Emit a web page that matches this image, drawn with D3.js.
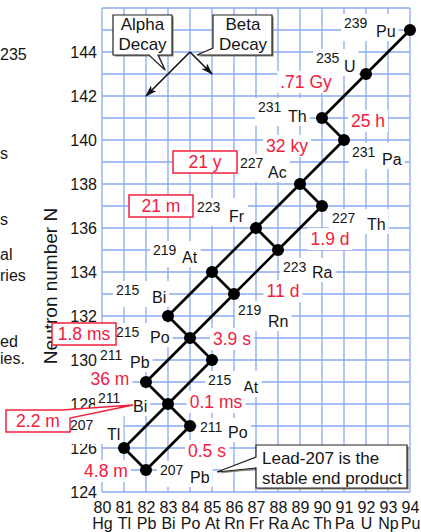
<!DOCTYPE html>
<html>
<head>
<meta charset="utf-8">
<script src="https://cdn.jsdelivr.net/npm/d3@7"></script>
<style>
  html, body { margin: 0; padding: 0; background: #fff; }
  svg { display: block; }
</style>
</head>
<body>
<svg id="chart" width="421" height="532"></svg>
<script>
// ---- Uranium-235 (actinium) decay series: nuclides on the N-Z chart ----
const nuclideIds     = ["Pu239","U235","Th231","Pa231","Ac227","Th227","Fr223","Ra223","At219","Rn219","Bi215","Po215","At215","Pb211","Bi211","Po211","Tl207","Pb207"];
const symbols        = ["Pu","U","Th","Pa","Ac","Th","Fr","Ra","At","Rn","Bi","Po","At","Pb","Bi","Po","Tl","Pb"];
const massNumbers    = [239,235,231,231,227,227,223,223,219,219,215,215,215,211,211,211,207,207];
const protonNumbers  = [94,92,90,91,89,90,87,88,85,86,83,84,85,82,83,84,81,82];
const neutronNumbers = [145,143,141,140,138,137,136,135,134,133,132,131,130,129,128,127,126,125];
const halfLives      = [null,".71 Gy","25 h","32 ky","21 y","1.9 d","21 m","11 d",null,"3.9 s",null,"1.8 ms","0.1 ms","36 m","2.2 m","0.5 s","4.8 m",null];

// decay links (parent -> daughter)
const decayFrom = ["Pu239","U235","Th231","Pa231","Ac227","Ac227","Th227","Fr223","Fr223","Ra223","At219","At219","Rn219","Bi215","Po215","Po215","Pb211","At215","Bi211","Bi211","Tl207","Po211"];
const decayTo   = ["U235","Th231","Pa231","Ac227","Th227","Fr223","Ra223","Ra223","At219","Rn219","Rn219","Bi215","Po215","Po215","Pb211","At215","Bi211","Bi211","Tl207","Po211","Pb207","Pb207"];

// axis ticks
const zTicks       = [80,81,82,83,84,85,86,87,88,89,90,91,92,93,94];
const elementTicks = ["Hg","Tl","Pb","Bi","Po","At","Rn","Fr","Ra","Ac","Th","Pa","U","Np","Pu"];
const nTicks       = [124,126,128,130,132,134,136,138,140,142,144];

// text fragments of the neighbouring page column
const sideTexts = ["235","s","s","al","ries","ed","ies."];

// ---- layout ----
const FONT = "'Liberation Sans', Arial, Helvetica, sans-serif";
const INK = "#151515";
const RED = "#f2203e";
const GRID = "#8aaaf0";

// label offsets from each nuclide dot: m = mass number, s = symbol, h = half-life
const labelLayout = {
  Pu239: {m:[-66,-2],  s:[-34,7]},
  U235:  {m:[-50,-11], s:[-22,-2],  h:[-60,14]},
  Th231: {m:[-64,-6],  s:[-34,4],   h:[46,9]},
  Pa231: {m:[8,17],    s:[38,25],   h:[-57,12]},
  Ac227: {m:[-60,-16], s:[-32,-6],  h:[-95,-16], box:true},
  Th227: {m:[10,17],   s:[45,24],   h:[8,39]},
  Fr223: {m:[-59,-16], s:[-27,-6],  h:[-95,-16], box:true},
  Ra223: {m:[5,22],    s:[34,28],   h:[5,47]},
  At219: {m:[-59,-17], s:[-30,-9]},
  Rn219: {m:[4,21],    s:[34,33],   h:[-2,51]},
  Bi215: {m:[-52,-21], s:[-16,-13]},
  Po215: {m:[-74,-1],  s:[-40,5],   h:[-106,2], box:true},
  At215: {m:[-4,25],   s:[31,33],   h:[4,48]},
  Pb211: {m:[-46,-22], s:[-16,-14], h:[-36,3]},
  Bi211: {m:[-70,-1],  s:[-35,8],   h:[-130,23], box:true, tip:[-35,1]},
  Po211: {m:[10,6],    s:[38,12],   h:[17,31]},
  Tl207: {m:[-54,-18], s:[-17,-8],  h:[-18,29]},
  Pb207: {m:[14,5],    s:[44,13]}
};
const sideLayout = [[0,60],[0,159],[0,225],[0,260],[0,281],[0,347],[0,364]];

const svg = d3.select("#chart").attr("font-family", FONT);

const x = d3.scaleLinear().domain([80, 94]).range([102, 410]);
const y = d3.scaleLinear().domain([124, 146]).range([492, 8]);

// ---- grid paper ----
const grid = svg.append("g").attr("stroke", GRID).attr("stroke-width", 1.3);
grid.selectAll("line.v").data(d3.range(80, 95)).join("line")
  .attr("class", "v")
  .attr("x1", d => x(d)).attr("x2", d => x(d))
  .attr("y1", y(124)).attr("y2", y(146));
grid.selectAll("line.h").data(d3.range(124, 147)).join("line")
  .attr("class", "h")
  .attr("x1", x(80)).attr("x2", x(94))
  .attr("y1", d => y(d)).attr("y2", d => y(d));

// ---- axes ----
const styleAxis = g => {
  g.select(".domain").remove();
  g.attr("font-family", FONT).attr("font-size", 16).attr("color", INK);
};
svg.append("g")
  .attr("transform", `translate(${x(80)},0)`)
  .call(d3.axisLeft(y).tickValues(nTicks).tickSize(0).tickPadding(5))
  .call(styleAxis);
svg.append("g")
  .attr("transform", `translate(0,${y(124)})`)
  .call(d3.axisBottom(x).tickValues(zTicks).tickSize(0).tickPadding(10))
  .call(styleAxis);
svg.append("g")
  .attr("transform", `translate(0,${y(124)})`)
  .call(d3.axisBottom(x).tickValues(zTicks).tickFormat((d, i) => elementTicks[i]).tickSize(0).tickPadding(26))
  .call(styleAxis);

svg.append("text")
  .attr("transform", `translate(57,286) rotate(-90)`)
  .attr("text-anchor", "middle")
  .attr("font-size", 19)
  .attr("fill", INK)
  .text("Neutron number N");

// neighbouring column text
svg.append("g").attr("font-size", 16).attr("fill", INK)
  .selectAll("text").data(sideTexts).join("text")
  .attr("x", (d, i) => sideLayout[i][0])
  .attr("y", (d, i) => sideLayout[i][1])
  .text(d => d);

// ---- nuclide table ----
const nuclides = nuclideIds.map((id, i) => ({
  id, sym: symbols[i], A: massNumbers[i], Z: protonNumbers[i], N: neutronNumbers[i],
  half: halfLives[i], lay: labelLayout[id]
}));
const byId = new Map(nuclides.map(d => [d.id, d]));
const px = d => x(d.Z), py = d => y(d.N);

// white backing behind a text group
function backing(g, pad) {
  const b = g.node().getBBox();
  g.insert("rect", ":first-child")
    .attr("x", b.x - pad).attr("y", b.y - pad + 2)
    .attr("width", b.width + 2 * pad).attr("height", b.height + 2 * pad - 4)
    .attr("fill", "#fff");
}

const labelLayer = svg.append("g");

// isotope labels
nuclides.forEach(d => {
  const g = labelLayer.append("g").attr("fill", INK);
  g.append("text")
    .attr("x", px(d) + d.lay.m[0]).attr("y", py(d) + d.lay.m[1])
    .attr("font-size", 14).text(d.A);
  g.append("text")
    .attr("x", px(d) + d.lay.s[0]).attr("y", py(d) + d.lay.s[1])
    .attr("font-size", 16).text(d.sym);
  backing(g, 3);
});

// half-lives
nuclides.filter(d => d.half).forEach(d => {
  const cx = px(d) + d.lay.h[0], by = py(d) + d.lay.h[1];
  const g = labelLayer.append("g");
  const t = g.append("text")
    .attr("x", cx).attr("y", by)
    .attr("text-anchor", "middle")
    .attr("font-size", 17.5).attr("fill", RED)
    .text(d.half);
  if (d.lay.box) {
    const w = Math.max(t.node().getComputedTextLength() + 4, 64);
    const x0 = cx - w / 2, x1 = cx + w / 2, y0 = by - 17, y1 = by + 5;
    let path;
    if (d.lay.tip) {
      const tx = px(d) + d.lay.tip[0], ty = py(d) + d.lay.tip[1];
      path = `M${x0},${y0}H${x1 - 8}L${tx},${ty}L${x1},${y0 + 8}V${y1}H${x0}Z`;
    } else {
      path = `M${x0},${y0}H${x1}V${y1}H${x0}Z`;
    }
    g.insert("path", ":first-child")
      .attr("d", path).attr("fill", "#fff")
      .attr("stroke", RED).attr("stroke-width", 1.5);
  } else {
    backing(g, 3);
  }
});

// ---- decay paths and nuclide dots ----
const links = decayFrom.map((f, i) => ({ s: byId.get(f), t: byId.get(decayTo[i]) }));
svg.append("g").attr("stroke", "#000").attr("stroke-width", 2.6)
  .selectAll("line").data(links).join("line")
  .attr("x1", d => px(d.s)).attr("y1", d => py(d.s))
  .attr("x2", d => px(d.t)).attr("y2", d => py(d.t));
svg.append("g").attr("fill", "#000")
  .selectAll("circle").data(nuclides).join("circle")
  .attr("cx", px).attr("cy", py).attr("r", 6);

// ---- legend: alpha / beta decay directions ----
svg.append("defs").append("marker")
  .attr("id", "head").attr("viewBox", "0 0 12 8")
  .attr("refX", 11).attr("refY", 4)
  .attr("markerWidth", 12).attr("markerHeight", 8)
  .attr("markerUnits", "userSpaceOnUse").attr("orient", "auto")
  .append("path").attr("d", "M0,0L12,4L0,8L3,4Z").attr("fill", "#111");

const origin = { Z: 84, N: 144 };
const steps = [{ dZ: -2, dN: -2 }, { dZ: 1, dN: -1 }]; // alpha, beta-minus
svg.append("g").attr("stroke", "#111").attr("stroke-width", 1.6)
  .selectAll("line").data(steps).join("line")
  .attr("x1", x(origin.Z)).attr("y1", y(origin.N))
  .attr("x2", d => x(origin.Z + d.dZ)).attr("y2", d => y(origin.N + d.dN))
  .attr("marker-end", "url(#head)");

// speech-balloon notes with a soft shadow
function note(path, lines, tx, ty0, lh) {
  const g = svg.append("g");
  g.append("path").attr("d", path).attr("fill", "#8a8478")
    .attr("transform", "translate(1.6,1.6)");
  g.append("path").attr("d", path).attr("fill", "#fff")
    .attr("stroke", "#222").attr("stroke-width", 1.2);
  g.selectAll("text").data(lines).join("text")
    .attr("x", tx.x).attr("y", (d, i) => ty0 + i * lh)
    .attr("text-anchor", tx.anchor)
    .attr("font-size", 17).attr("fill", INK)
    .text(d => d);
}

const ax = x(origin.Z), ay = y(origin.N);
note(`M113,15H172V55H158L${ax - 25},${ay + 18}L149,55H113Z`,
     ["Alpha", "Decay"], { x: 142.5, anchor: "middle" }, 30, 20);
note(`M213,15H272V55H219L${ax + 7},${ay + 3}L213,48Z`,
     ["Beta", "Decay"], { x: 243, anchor: "middle" }, 30, 20);

const pb = byId.get("Pb207");
note(`M256,445H407V488H256V468L${px(pb) + 71},${py(pb) + 2}L256,457Z`,
     ["Lead-207 is the", "stable end product"], { x: 262, anchor: "start" }, 464, 20);
</script>
</body>
</html>
